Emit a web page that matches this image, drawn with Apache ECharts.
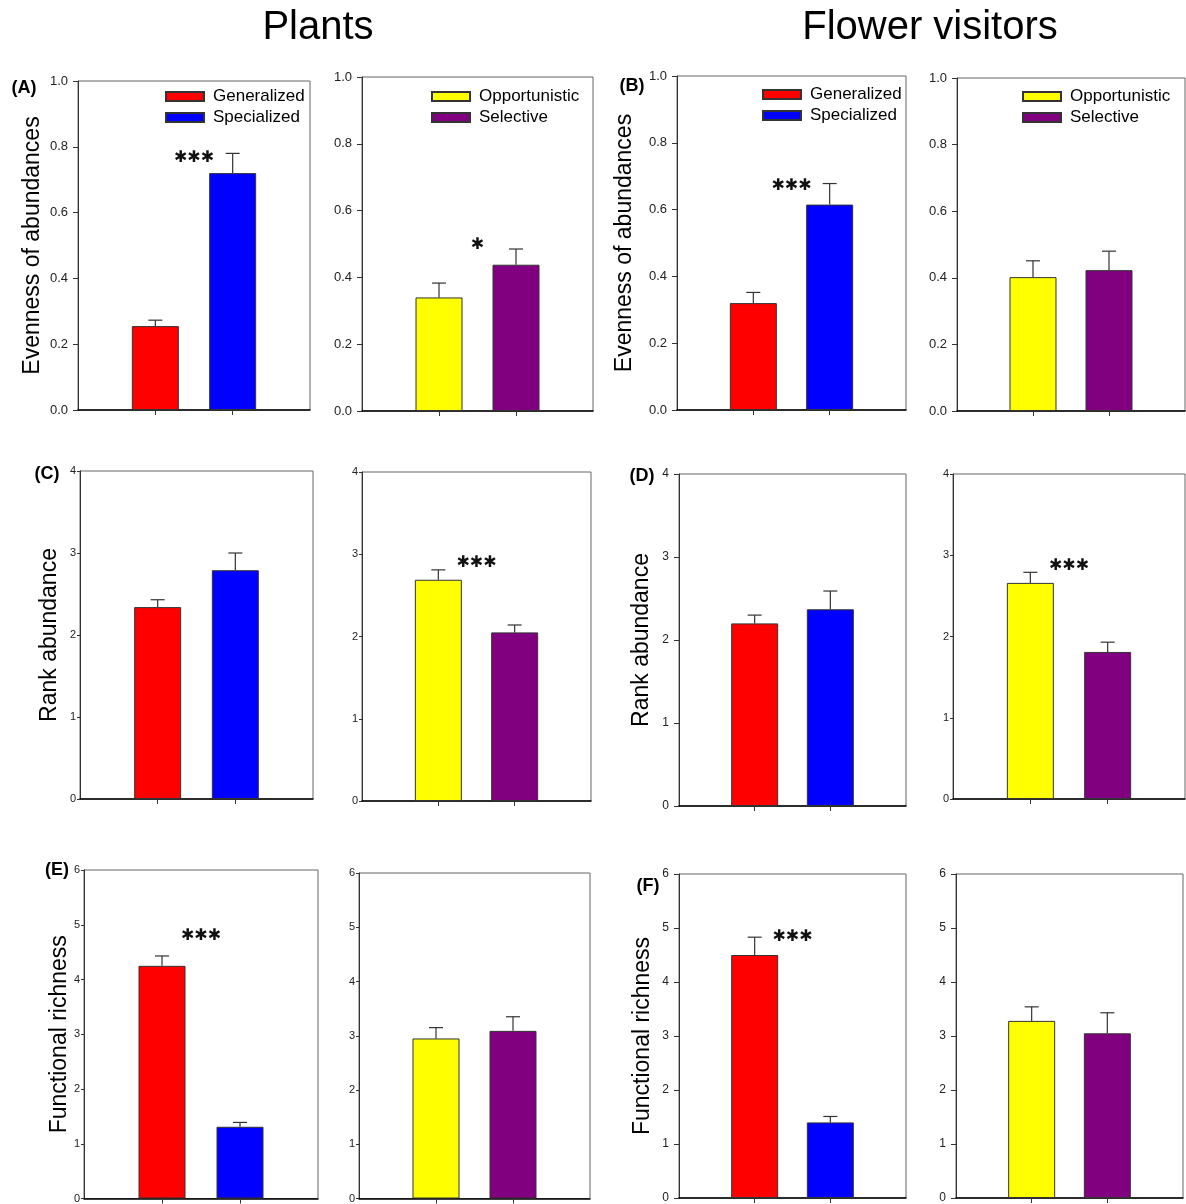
<!DOCTYPE html>
<html>
<head>
<meta charset="utf-8">
<script src="https://cdn.jsdelivr.net/npm/echarts@6/dist/echarts.min.js"></script>
<style>
  html, body { margin: 0; padding: 0; background: #fff; }
  #chart { width: 1186px; height: 1204px; }
</style>
</head>
<body>
<div id="chart"></div>
<script>
// categories (outer empty slots keep the two bars centred like the original)
const guildCats = ['', 'Generalized', 'Specialized', ''];
const behavCats = ['', 'Opportunistic', 'Selective', ''];

// evenness of abundances - plants
const plantEvenGuild = [0.255, 0.72];
const plantEvenGuildTop = [0.273, 0.78];
const plantEvenBehav = [0.34, 0.438];
const plantEvenBehavTop = [0.383, 0.485];
// evenness of abundances - flower visitors
const visitEvenGuild = [0.32, 0.615];
const visitEvenGuildTop = [0.352, 0.678];
const visitEvenBehav = [0.402, 0.423];
const visitEvenBehavTop = [0.451, 0.48];

// rank abundance
const plantRankGuild = [2.34, 2.79];
const plantRankGuildTop = [2.43, 3.0];
const plantRankBehav = [2.69, 2.05];
const plantRankBehavTop = [2.81, 2.14];
const visitRankGuild = [2.2, 2.37];
const visitRankGuildTop = [2.3, 2.59];
const visitRankBehav = [2.66, 1.81];
const visitRankBehavTop = [2.79, 1.93];

// functional richness
const plantFuncGuild = [4.25, 1.31];
const plantFuncGuildTop = [4.43, 1.39];
const plantFuncBehav = [2.95, 3.09];
const plantFuncBehavTop = [3.15, 3.35];
const visitFuncGuild = [4.5, 1.4];
const visitFuncGuildTop = [4.83, 1.51];
const visitFuncBehav = [3.28, 3.05];
const visitFuncBehavTop = [3.54, 3.43];

// significance marks: [text, height]
const sigPlantEvenGuild = ['***', 0.766];
const sigPlantEvenBehav = ['*', 0.497];
const sigVisitEvenGuild = ['***', 0.67];
const sigPlantRankBehav = ['***', 2.9];
const sigVisitRankBehav = ['***', 2.87];
const sigPlantFuncGuild = ['***', 4.79];
const sigVisitFuncGuild = ['***', 4.84];

const guildColors = ['#ff0000', '#0000ff'];
const behavColors = ['#ffff00', '#800080'];

const FONT = 'Liberation Sans, Arial, sans-serif';

// panel list: data + per-panel look
const panels = [
  { cats: guildCats, means: plantEvenGuild, tops: plantEvenGuildTop, sig: sigPlantEvenGuild, max: 1, step: 0.2, row: 0,
    box: [78, 81, 310, 410], name: 'Evenness of abundances', nameGap: 34, legend: [165, 88] },
  { cats: behavCats, means: plantEvenBehav, tops: plantEvenBehavTop, sig: sigPlantEvenBehav, max: 1, step: 0.2, row: 0,
    box: [362, 77, 593, 411], legend: [431, 88] },
  { cats: guildCats, means: visitEvenGuild, tops: visitEvenGuildTop, sig: sigVisitEvenGuild, max: 1, step: 0.2, row: 0,
    box: [677, 76, 906, 410], name: 'Evenness of abundances', nameGap: 41, legend: [762, 86] },
  { cats: behavCats, means: visitEvenBehav, tops: visitEvenBehavTop, sig: null, max: 1, step: 0.2, row: 0,
    box: [957, 78, 1185, 411], legend: [1022, 88] },

  { cats: guildCats, means: plantRankGuild, tops: plantRankGuildTop, sig: null, max: 4, step: 1, row: 1, tight: true,
    box: [80, 471, 313, 799], name: 'Rank abundance', nameGap: 19 },
  { cats: behavCats, means: plantRankBehav, tops: plantRankBehavTop, sig: sigPlantRankBehav, max: 4, step: 1, row: 1, tight: true,
    box: [362, 472, 591, 801] },
  { cats: guildCats, means: visitRankGuild, tops: visitRankGuildTop, sig: null, max: 4, step: 1, row: 1,
    box: [679, 474, 906, 806], name: 'Rank abundance', nameGap: 26 },
  { cats: behavCats, means: visitRankBehav, tops: visitRankBehavTop, sig: sigVisitRankBehav, max: 4, step: 1, row: 1, tight: true,
    box: [953, 474, 1185, 799] },

  { cats: guildCats, means: plantFuncGuild, tops: plantFuncGuildTop, sig: sigPlantFuncGuild, max: 6, step: 1, row: 2, tight: true,
    box: [84, 870, 318, 1203], name: 'Functional richness', nameGap: 13 },
  { cats: behavCats, means: plantFuncBehav, tops: plantFuncBehavTop, sig: null, max: 6, step: 1, row: 2, tight: true,
    box: [359, 873, 590, 1203] },
  { cats: guildCats, means: visitFuncGuild, tops: visitFuncGuildTop, sig: sigVisitFuncGuild, max: 6, step: 1, row: 2,
    box: [679, 874, 906, 1201], name: 'Functional richness', nameGap: 25 },
  { cats: behavCats, means: visitFuncBehav, tops: visitFuncBehavTop, sig: null, max: 6, step: 1, row: 2,
    box: [956, 874, 1183, 1203] }
];

const grid = [], xAxis = [], yAxis = [], series = [], legend = [];

panels.forEach((p, i) => {
  const [l, t, r, b] = p.box;
  grid.push({ left: l, top: t, width: r - l, height: b - t, show: true,
    borderColor: '#666', borderWidth: 1, backgroundColor: 'transparent' });

  xAxis.push({
    gridIndex: i, type: 'category', data: p.cats, boundaryGap: false,
    axisLine: { lineStyle: { color: '#000', width: 1.5 } },
    axisTick: { show: true, length: 5, interval: (idx) => idx === 1 || idx === 2, lineStyle: { color: '#333' } },
    axisLabel: { show: false },
    splitLine: { show: false }
  });

  yAxis.push({
    gridIndex: i, type: 'value', min: 0, max: p.max, interval: p.step,
    name: p.name || '', nameLocation: 'middle', nameGap: p.nameGap || 0, nameMoveOverlap: false,
    nameTextStyle: { fontFamily: FONT, fontSize: 23, color: '#000' },
    axisLine: { show: true, lineStyle: { color: '#333', width: 1 } },
    axisTick: { show: true, length: p.tight ? 3 : 5, lineStyle: { color: '#333' } },
    axisLabel: {
      fontFamily: FONT, color: '#222',
      fontSize: p.row === 0 ? 13 : (p.tight ? 11 : 12),
      margin: p.tight ? 4 : 10,
      formatter: (v) => p.row === 0 ? v.toFixed(1) : String(v)
    },
    splitLine: { show: false }
  });

  const colors = p.cats === guildCats ? guildColors : behavColors;
  [0, 1].forEach((k) => {
    const d = ['-', '-', '-', '-'];
    d[k + 1] = p.means[k];
    series.push({
      type: 'bar', name: p.cats[k + 1], xAxisIndex: i, yAxisIndex: i,
      data: d, barWidth: 47, barGap: '-100%',
      itemStyle: { color: colors[k], borderColor: '#333', borderWidth: 1 },
      emphasis: { disabled: true }
    });
  });

  // error whiskers (upper only)
  series.push({
    type: 'custom', xAxisIndex: i, yAxisIndex: i, z: 5, silent: true,
    data: [[1, p.means[0], p.tops[0]], [2, p.means[1], p.tops[1]]],
    renderItem: (params, api) => {
      const base = api.coord([api.value(0), api.value(1)]);
      const top = api.coord([api.value(0), api.value(2)]);
      const st = { stroke: '#333', lineWidth: 1.2 };
      return { type: 'group', children: [
        { type: 'line', shape: { x1: base[0], y1: base[1], x2: top[0], y2: top[1] }, style: st },
        { type: 'line', shape: { x1: top[0] - 7, y1: top[1], x2: top[0] + 7, y2: top[1] }, style: st }
      ] };
    }
  });

  if (p.sig) {
    const sig = p.sig;
    series.push({
      type: 'custom', xAxisIndex: i, yAxisIndex: i, z: 6, silent: true,
      data: [[1, sig[1]]],
      renderItem: (params, api) => {
        const a = api.coord([1, api.value(1)]);
        const c = api.coord([2, api.value(1)]);
        return { type: 'text', style: {
          text: sig[0].replace(/\*/g, '\u2731'), x: (a[0] + c[0]) / 2, y: a[1],
          textAlign: 'center', textVerticalAlign: 'middle',
          fontFamily: 'DejaVu Sans', fontSize: 16, fill: '#111'
        } };
      }
    });
  }

  if (p.legend) {
    legend.push({
      data: [p.cats[1], p.cats[2]], orient: 'vertical', left: p.legend[0], top: p.legend[1],
      padding: 0, itemWidth: 38, itemHeight: 9, itemGap: 4, selectedMode: false, icon: 'rect',
      textStyle: { fontFamily: FONT, fontSize: 17, lineHeight: 17, color: '#000', padding: [0, 0, 0, 4] }
    });
  }
});

// titles and panel letters
const titles = [['Plants', 318], ['Flower visitors', 930]];
const letters = [['(A)', 24, 88], ['(B)', 632, 86], ['(C)', 47, 474], ['(D)', 642, 476], ['(E)', 57, 870], ['(F)', 648, 886]];

const graphic = [];
titles.forEach(([txt, x]) => graphic.push({
  type: 'text', silent: true, position: [x, 28],
  style: { text: txt, fontFamily: FONT, fontSize: 40, fill: '#000', textAlign: 'center', textVerticalAlign: 'middle' }
}));
letters.forEach(([txt, x, y]) => graphic.push({
  type: 'text', silent: true, position: [x, y],
  style: { text: txt, fontFamily: FONT, fontSize: 18, fontWeight: 'bold', fill: '#000', textAlign: 'center', textVerticalAlign: 'middle' }
}));

const chart = echarts.init(document.getElementById('chart'));
chart.setOption({
  backgroundColor: '#fff',
  animation: false,
  grid, xAxis, yAxis, series, legend, graphic
});
</script>
</body>
</html>
